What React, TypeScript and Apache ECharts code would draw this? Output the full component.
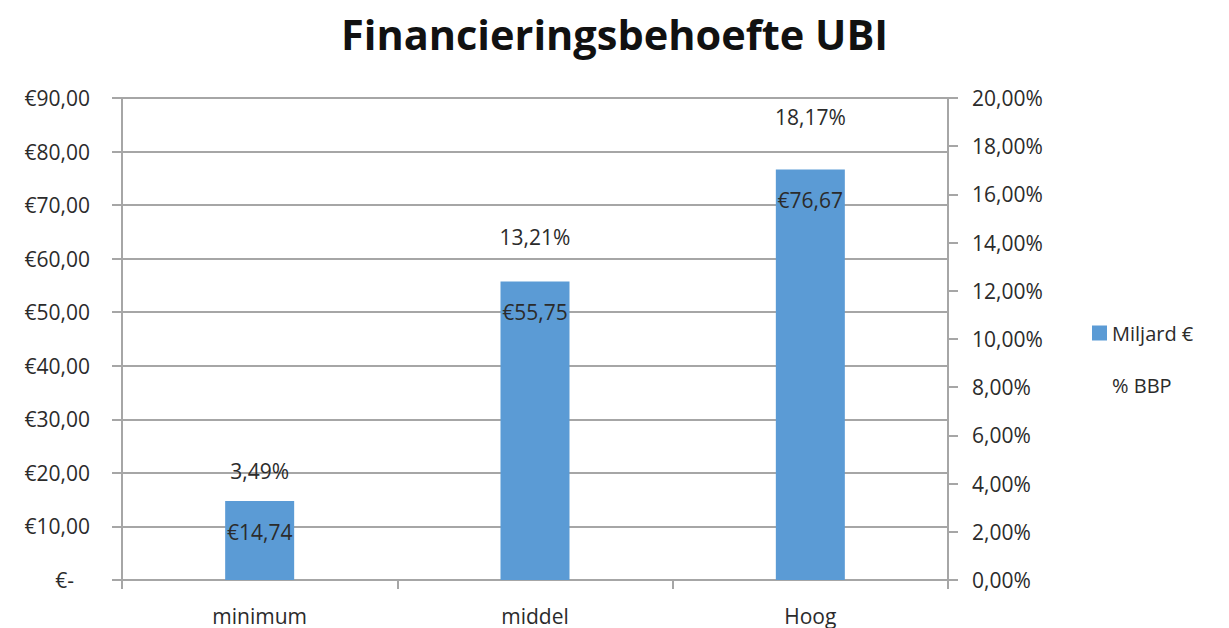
import React, { useEffect, useRef } from "react";
import * as echarts from "echarts";

const categories = ["minimum", "middel", "Hoog"];
const miljard = [14.74, 55.75, 76.67];
const bbp = [3.49, 13.21, 18.17];
const leftTicks = { min: 0, max: 90, interval: 10 };
const rightTicks = { min: 0, max: 20, interval: 2 };

const FONT = "Open Sans";
const TXT = "#2b2b2b";
const GRID = "#a6a6a6";
const FS = 21;

export default function App() {
  const ref = useRef<HTMLDivElement>(null);
  useEffect(() => {
    if (!ref.current) return;
    const chart = echarts.init(ref.current, undefined, { renderer: "svg" });
    chart.setOption({
      animation: false,
      backgroundColor: "#ffffff",
      textStyle: { fontFamily: FONT },
      title: {
        text: "Financieringsbehoefte UBI",
        left: "center",
        top: 8,
        textStyle: { fontFamily: FONT, fontSize: 41.5, fontWeight: "bold", color: "#111" },
      },
      grid: { left: 122, right: 281, top: 98, bottom: 48 },
      legend: {
        orient: "vertical",
        left: 1087,
        top: 318,
        itemGap: 32,
        itemWidth: 15,
        itemHeight: 15,
        textStyle: { fontFamily: FONT, fontSize: 20, color: TXT },
        data: [
          { name: "Miljard €", icon: "rect" },
          { name: "% BBP", icon: "rect", itemStyle: { opacity: 0 } },
        ],
      },
      xAxis: {
        type: "category",
        data: categories,
        axisLine: { lineStyle: { color: GRID, width: 2 } },
        axisTick: { show: true, length: 9, lineStyle: { color: GRID, width: 2 } },
        axisLabel: { fontSize: FS, color: TXT, margin: 25, fontFamily: FONT },
      },
      yAxis: [
        {
          type: "value",
          ...leftTicks,
          axisLine: { show: true, lineStyle: { color: GRID, width: 2 } },
          axisTick: { show: true, length: 10, lineStyle: { color: GRID, width: 2 } },
          splitLine: { lineStyle: { color: GRID, width: 2 } },
          axisLabel: {
            fontSize: FS,
            color: TXT,
            margin: 32,
            fontFamily: FONT,
            formatter: (v: number) =>
              v === 0 ? "{z|€-}" : "€" + v.toFixed(2).replace(".", ","),
            rich: { z: { fontSize: FS, color: TXT, fontFamily: FONT, padding: [0, 16, 0, 0] } },
          },
        },
        {
          type: "value",
          ...rightTicks,
          position: "right",
          axisLine: { show: true, lineStyle: { color: GRID, width: 2 } },
          axisTick: { show: true, length: 10, lineStyle: { color: GRID, width: 2 } },
          splitLine: { show: false },
          axisLabel: {
            fontSize: FS,
            color: TXT,
            margin: 24,
            fontFamily: FONT,
            formatter: (v: number) => v.toFixed(2).replace(".", ",") + "%",
          },
        },
      ],
      series: [
        {
          name: "Miljard €",
          type: "bar",
          data: miljard,
          barWidth: 69,
          itemStyle: { color: "#5B9BD5" },
          label: {
            show: true,
            position: "insideTop",
            distance: 20,
            fontSize: FS,
            color: TXT,
            fontFamily: FONT,
            formatter: (p: any) => "€" + p.value.toFixed(2).replace(".", ","),
          },
        },
        {
          name: "% BBP",
          type: "line",
          yAxisIndex: 1,
          data: bbp,
          symbol: "circle",
          symbolSize: 1,
          showSymbol: true,
          lineStyle: { opacity: 0 },
          itemStyle: { color: "rgba(0,0,0,0)" },
          label: {
            show: true,
            position: "top",
            distance: 14,
            fontSize: FS,
            color: TXT,
            fontFamily: FONT,
            formatter: (p: any) => p.value.toFixed(2).replace(".", ",") + "%",
          },
        },
      ],
    });
    return () => chart.dispose();
  }, []);
  return (
    <div
      ref={ref}
      style={{ width: 1229, height: 628, position: "fixed", left: 0, top: 0 }}
    />
  );
}
